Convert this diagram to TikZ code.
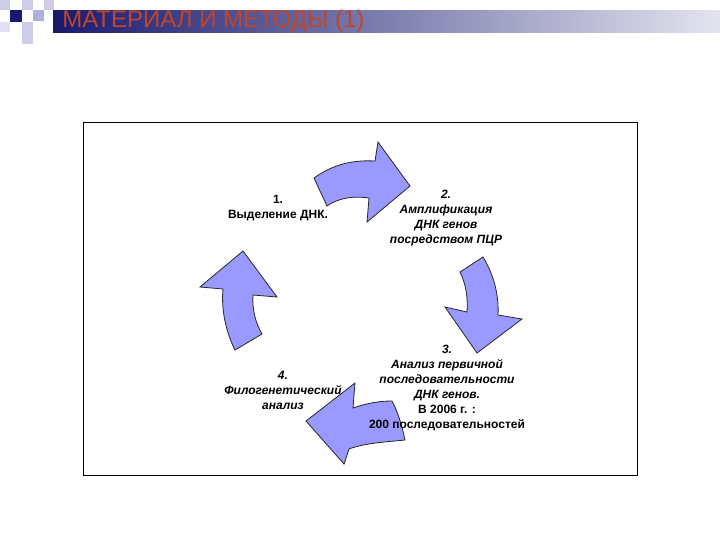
\documentclass[tikz,border=0pt]{standalone}
\usepackage{fontspec}
\setmainfont{Liberation Sans}
\definecolor{navy}{RGB}{25,25,110}
\definecolor{barlight}{RGB}{228,228,240}
\definecolor{sqlight}{RGB}{205,205,232}
\definecolor{sqmid}{RGB}{175,175,220}
\definecolor{titlered}{RGB}{190,70,45}
\definecolor{arrowfill}{RGB}{153,153,255}
\tikzset{
  cyclearrow/.style={fill=arrowfill, draw=black!85, line width=0.6pt, line join=miter},
  lbl/.style={align=center, font=\fontsize{9}{11.2}\selectfont\bfseries, inner sep=0pt},
}
\begin{document}
\begin{tikzpicture}[x=0.75pt,y=-0.75pt]
\useasboundingbox (0,0) rectangle (720,540);
\fill[white] (0,0) rectangle (720,540);
% header decoration
\shade[left color=navy, right color=barlight] (53,10) rectangle (720,32);
\fill[sqlight] (0,0) rectangle (10,10);
\fill[navy] (10,10) rectangle (22,22);
\fill[sqlight] (22,0) rectangle (33,10);
\fill[sqmid] (33,10) rectangle (44,21);
\fill[sqlight] (44,0) rectangle (54,10);
\fill[sqlight] (22,22) rectangle (33,33);
\fill[sqlight] (22,33) rectangle (33,44);
\fill[sqlight!60] (0,22) rectangle (10,32);
\node[anchor=west, inner sep=0pt, text=titlered, font=\fontsize{18}{20}\selectfont] (title) at (62,21) {МАТЕРИАЛ И МЕТОДЫ (1)};
% frame
\node[draw=black, line width=0.6pt, minimum width=554*0.75pt, minimum height=353*0.75pt, inner sep=0pt] (frame) at (360,298.5) {};
% arrows
\draw[cyclearrow] (314,178) .. controls (335,163) and (355,160) .. (375,161) -- (378,142) -- (410,186) -- (367,222) -- (369,198) .. controls (355,196) and (340,197) .. (327,206) -- cycle;
\draw[cyclearrow] (483,257) .. controls (494,275) and (499,295) .. (498,315) -- (522,319) -- (477,353) -- (445,307) -- (467,312) .. controls (468,298) and (466,284) .. (460,272) -- cycle;
\draw[cyclearrow] (392,401) .. controls (398,412) and (402,426) .. (405,440) .. controls (385,442) and (365,443) .. (349,449) -- (344,464) -- (306,421) -- (355,383) -- (353,408) .. controls (367,403) and (380,401) .. (392,401) -- cycle;
\draw[cyclearrow] (262,334) .. controls (255,322) and (252,308) .. (253,295) -- (277,297) -- (243,251) -- (200,287) -- (223,289) .. controls (221,310) and (226,332) .. (235,350) -- cycle;
% labels
\node[lbl] (t1) at (278,208) {1.\\Выделение ДНК.};
\node[lbl] (t2) at (446,218) {\itshape 2.\\\itshape Амплификация\\\itshape ДНК генов\\\itshape посредством ПЦР};
\node[lbl] (t3) at (447,388) {\itshape 3.\\\itshape Анализ первичной\\\itshape последовательности\\\itshape ДНК генов.\\В 2006 г. :\\200 последовательностей};
\node[lbl] (t4) at (283,390) {\itshape 4.\\\itshape Филогенетический\\\itshape анализ};
\end{tikzpicture}
\end{document}
